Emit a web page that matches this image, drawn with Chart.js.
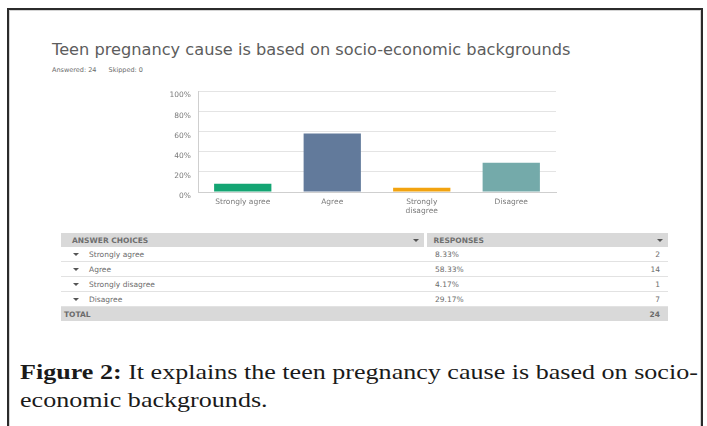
<!DOCTYPE html>
<html>
<head>
<meta charset="utf-8">
<script src="https://cdn.jsdelivr.net/npm/chart.js@4"></script>
<style>
  html, body { margin: 0; padding: 0; background: #fff; width: 707px; height: 426px; overflow: hidden; }
  body { position: relative; font-family: "DejaVu Sans", sans-serif; }
  .frame { position: absolute; left: 7px; top: 8px; width: 692px; height: 440px;
           border: 2px solid #2b2b2b; box-shadow: inset 0 0 0 1px #d4d4d4; }
  .title { position: absolute; left: 52px; top: 40px; font-size: 16.2px; color: #5d5d5d; white-space: nowrap; }
  .meta { position: absolute; left: 52px; top: 66px; font-size: 6.5px; color: #6a6a6a; white-space: nowrap; }
  .meta span { margin-right: 10px; }
  #chartWrap { position: absolute; left: 150px; top: 80px; width: 420px; height: 140px; }
  table { position: absolute; left: 61px; top: 233px; width: 607px; border-collapse: collapse; table-layout: fixed;
          font-size: 7.5px; color: #6b6b6b; }
  td, th { height: 14px; padding: 0; border-bottom: 1px solid #e2e2e2; white-space: nowrap; }
  th { background: #d9d9d9; font-weight: bold; text-align: left; color: #6f6f6f; border-bottom: none; }
  tr.total td { background: #d9d9d9; font-weight: bold; border-bottom: none; }
  .arrow { display: inline-block; width: 0; height: 0; border-left: 3px solid transparent;
           border-right: 3px solid transparent; border-top: 3px solid #555; vertical-align: middle; }
  th .arrow { float: right; margin: 3px 5px 0 0; }
  .caption { position: absolute; left: 20px; top: 358px; font: 22px/28px "Liberation Serif", serif; color: #1a1a1a;
             white-space: nowrap; transform: scaleX(1.185); transform-origin: 0 0; }
</style>
</head>
<body>
<div class="frame"></div>
<div class="title">Teen pregnancy cause is based on socio-economic backgrounds</div>
<div class="meta"><span>Answered: 24</span> <span>Skipped: 0</span></div>
<div id="chartWrap"><canvas id="surveyChart" width="420" height="140"></canvas></div>
<table id="responses"></table>
<div class="caption"><b>Figure 2:</b> It explains the teen pregnancy cause is based on socio-<br>economic backgrounds.</div>

<script>
// survey answers
const choices = ['Strongly agree', 'Agree', 'Strongly disagree', 'Disagree'];
const axisLabels = ['Strongly agree', 'Agree', ['Strongly', 'disagree'], 'Disagree'];
const percents = [8.33, 58.33, 4.17, 29.17];
const counts = [2, 14, 1, 7];
const totalAnswered = 24;
const barColors = ['#14a573', '#627a9b', '#f2a30f', '#74aaaa'];

const tickFont = { family: "'DejaVu Sans', sans-serif", size: 7.5 };

new Chart(document.getElementById('surveyChart'), {
    type: 'bar',
    data: {
        labels: axisLabels,
        datasets: [{
            data: percents,
            backgroundColor: barColors,
            barPercentage: 0.64,
            categoryPercentage: 1
        }]
    },
    options: {
        responsive: false,
        animation: false,
        layout: { padding: { top: 8, right: 14, bottom: 0, left: 0 } },
        plugins: { legend: { display: false }, tooltip: { enabled: false } },
        scales: {
            y: {
                min: 0, max: 100,
                afterFit: s => { s.width = 48; },
                ticks: {
                    stepSize: 10,
                    padding: 7,
                    labelOffset: 4,
                    color: '#7a7a7a',
                    font: tickFont,
                    callback: v => (v % 20 === 0 ? v + '%' : '')
                },
                grid: { color: '#e4e4e4', drawTicks: false },
                border: { color: '#cfcfcf' }
            },
            x: {
                afterFit: s => { s.height = 28; },
                ticks: { padding: 5, color: '#7a7a7a', font: { ...tickFont, lineHeight: 1.25 }, maxRotation: 0 },
                grid: { display: false, drawTicks: false },
                border: { color: '#cfcfcf' }
            }
        }
    }
});

// response table under the chart
const table = document.getElementById('responses');
let html = '<colgroup><col style="width:364px"><col style="width:203px"><col style="width:40px"></colgroup>' +
           '<tr><th style="padding-left:11px">ANSWER CHOICES<span class="arrow"></span></th>' +
           '<th colspan="2" style="padding-left:7px;border-left:3px solid #fff">RESPONSES<span class="arrow"></span></th></tr>';
choices.forEach((c, i) => {
    html += '<tr><td style="padding-left:12px"><span class="arrow"></span><span style="margin-left:10px">' + c + '</span></td>' +
            '<td style="padding-left:10px">' + percents[i].toFixed(2) + '%</td>' +
            '<td style="text-align:right;padding-right:8px">' + counts[i] + '</td></tr>';
});
html += '<tr class="total"><td style="padding-left:3px">TOTAL</td><td></td><td style="text-align:right;padding-right:8px">' + totalAnswered + '</td></tr>';
table.innerHTML = html;
</script>
</body>
</html>
